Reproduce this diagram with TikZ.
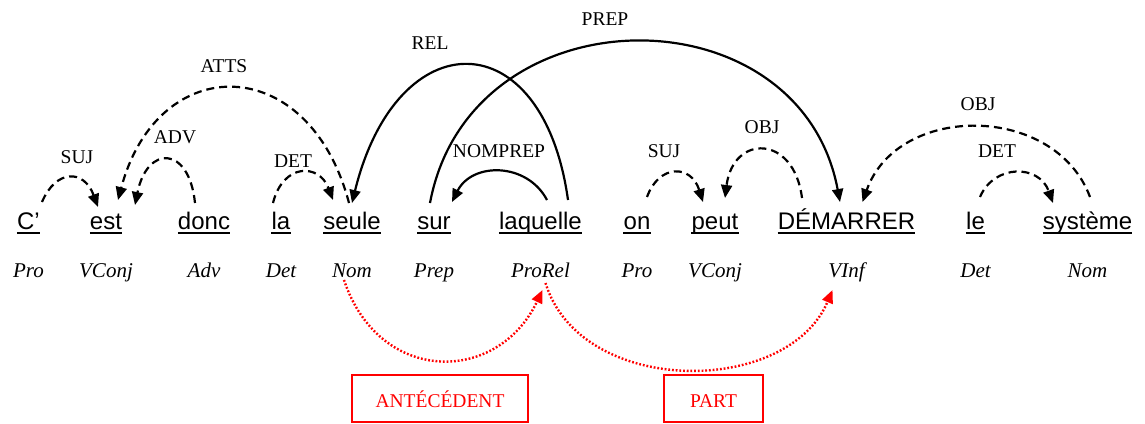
\documentclass[tikz,border=0pt]{standalone}
\usepackage{fontspec}
\setmainfont{Liberation Serif}
\newfontfamily\wordfont{Liberation Sans}
\usetikzlibrary{arrows.meta,calc}
\begin{document}
\begin{tikzpicture}[x=1pt,y=-1pt,
  word/.style={font=\wordfont\fontsize{24}{28}\selectfont, inner sep=0pt, anchor=base},
  cat/.style={font=\itshape\fontsize{21}{25}\selectfont, inner sep=0pt, anchor=base},
  rel/.style={font=\fontsize{19.5}{23}\selectfont, inner sep=0pt, anchor=base},
  uline/.style={line width=2.5pt},
  dep/.style={-{Triangle[length=13pt,width=11pt]}, line width=2.2pt},
  weak/.style={dep, dash pattern=on 8pt off 5pt},
  link/.style={red, line width=2.4pt, dash pattern=on 1.8pt off 1.9pt,
    -{Triangle[length=13pt,width=11pt]}},
  tagbox/.style={draw=red, line width=1.6pt, text=red, inner sep=0pt,
    font=\fontsize{19.5}{23}\selectfont, text height=17pt, text depth=0pt,
    minimum height=47pt}
]
\useasboundingbox (0,0) rectangle (1145,423);

% words of the sentence
\node[word] (w1)  at (28.5,229)  {C’};
\node[word] (w2)  at (106,229)   {est};
\node[word] (w3)  at (204,229)   {donc};
\node[word] (w4)  at (281,229)   {la};
\node[word] (w5)  at (352,229)   {seule};
\node[word] (w6)  at (434,229)   {sur};
\node[word] (w7)  at (540.5,229) {laquelle};
\node[word] (w8)  at (637,229)   {on};
\node[word] (w9)  at (715,229)   {peut};
\node[word] (w10) at (846.5,229) {DÉMARRER};
\node[word] (w11) at (975.5,229) {le};
\node[word] (w12) at (1087.5,229){système};
\foreach \n in {w1,w2,w3,w4,w5,w6,w7,w8,w9,w10,w11,w12}
  \draw[uline] ([yshift=-4pt]\n.base west) -- ([yshift=-4pt]\n.base east);

% part-of-speech tags
\node[cat] (p1)  at (28.5,277)  {Pro};
\node[cat] (p2)  at (106,277)   {VConj};
\node[cat] (p3)  at (204,277)   {Adv};
\node[cat] (p4)  at (281,277)   {Det};
\node[cat] (p5)  at (352,277)   {Nom};
\node[cat] (p6)  at (434,277)   {Prep};
\node[cat] (p7)  at (540.5,277) {ProRel};
\node[cat] (p8)  at (637,277)   {Pro};
\node[cat] (p9)  at (715,277)   {VConj};
\node[cat] (p10) at (846.5,277) {VInf};
\node[cat] (p11) at (975.5,277) {Det};
\node[cat] (p12) at (1087.5,277){Nom};

% dependency labels
\node[rel] (lsuj1) at (77,163)  {SUJ};
\node[rel] (ladv)  at (175,143) {ADV};
\node[rel] (latts) at (224,72)  {ATTS};
\node[rel] (ldet1) at (293,167) {DET};
\node[rel] (lrel)  at (430,49)  {REL};
\node[rel] (lprep) at (605,25)  {PREP};
\node[rel] (lnomp) at (499,157) {NOMPREP};
\node[rel] (lsuj2) at (664,157) {SUJ};
\node[rel] (lobj1) at (762,133) {OBJ};
\node[rel] (lobj2) at (978,110) {OBJ};
\node[rel] (ldet2) at (997,157) {DET};

% dashed dependencies
\draw[weak] ($(w1.base)+(13.5,-27)$) .. controls +(14,-33) and +(-14,-38) .. ($(w2.base)+(-8,-22)$);
\draw[weak] ($(w3.base)+(-9,-26)$) .. controls +(-6,-58) and +(12,-60) .. ($(w2.base)+(29,-24)$);
\draw[weak] ($(w5.base)+(-3,-26)$) .. controls +(-40,-152) and +(40,-150) .. ($(w2.base)+(12,-29)$);
\draw[weak] ($(w4.base)+(-8,-26)$) .. controls +(10,-40) and +(-14,-37) .. ($(w5.base)+(-19,-29)$);
\draw[weak] ($(w8.base)+(10,-32)$) .. controls +(12,-33) and +(-12,-38) .. ($(w9.base)+(-12,-27)$);
\draw[weak] ($(w10.base)+(-44.5,-31)$) .. controls +(-8,-64) and +(8,-64) .. ($(w9.base)+(10,-31)$);
\draw[weak] ($(w12.base)+(2.5,-32)$) .. controls +(-35,-94) and +(35,-99) .. ($(w10.base)+(16,-27)$);
\draw[weak] ($(w11.base)+(4.5,-32)$) .. controls +(14,-33) and +(-14,-39) .. ($(w12.base)+(-34.5,-26)$);

% solid dependencies
\draw[dep] ($(w7.base)+(27.5,-29)$) .. controls +(-25,-180) and +(45,-183) .. ($(w5.base)+(0,-26)$);
\draw[dep] ($(w6.base)+(-4,-26)$) .. controls +(40,-214) and +(-40,-214) .. ($(w10.base)+(-6.5,-27)$);
\draw[dep] ($(w7.base)+(6.5,-29)$) .. controls +(-20,-38) and +(20,-40) .. ($(w6.base)+(18,-27)$);

% red links below the tags
\draw[link] ($(p5.base)+(-8,3)$) .. controls +(35,105) and +(-45,95) .. ($(p7.base)+(2,13)$);
\draw[link] ($(p7.base)+(5,6)$) .. controls +(35,114) and +(-45,107) .. ($(p10.base)+(-14,13)$);

% link names
\node[tagbox, minimum width=176pt] (bant)  at (440,398.5)   {ANTÉCÉDENT};
\node[tagbox, minimum width=99pt]  (bpart) at (713.5,398.5) {PART};
\end{tikzpicture}
\end{document}
